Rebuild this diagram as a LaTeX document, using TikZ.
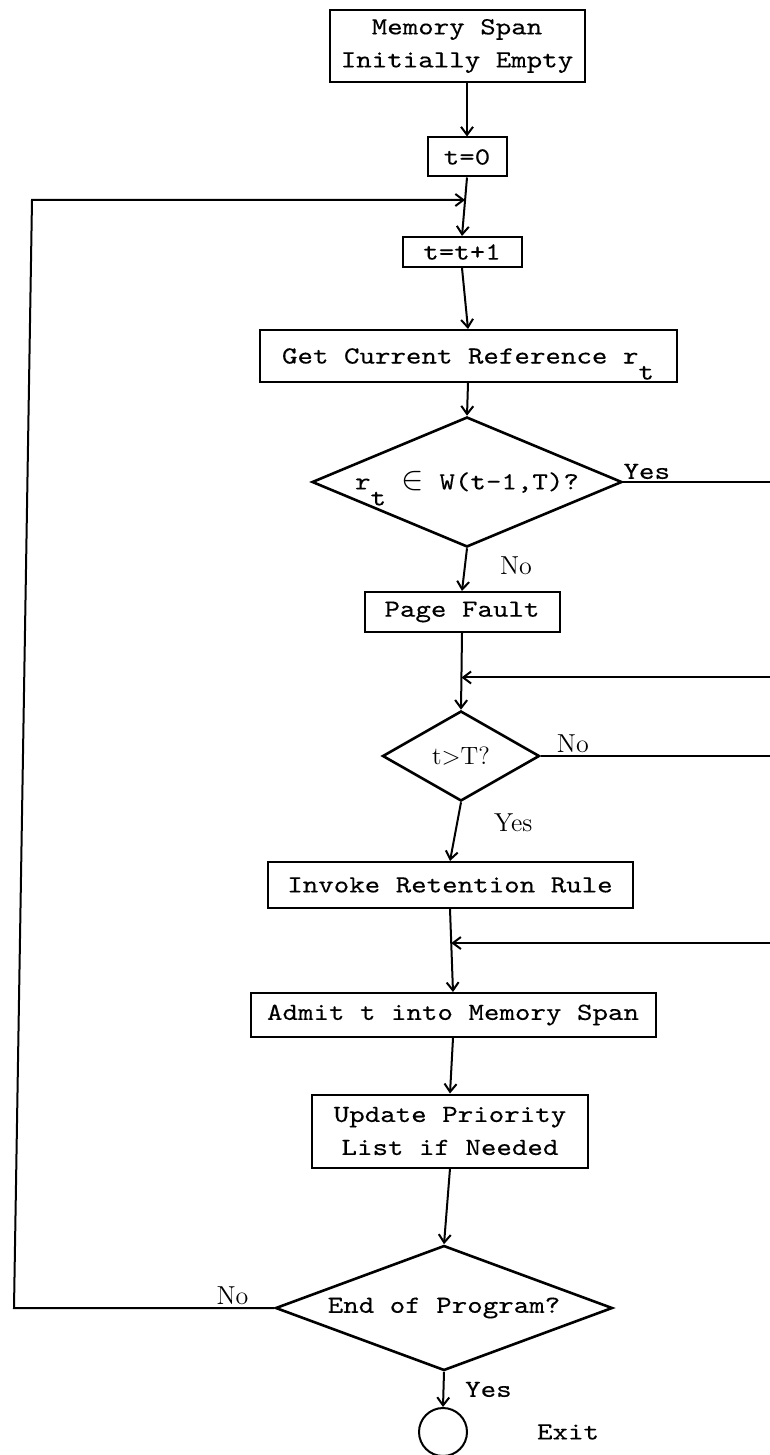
\documentclass[tikz,border=0pt]{standalone}
\usepackage{fontspec}
\newfontfamily\typer[FakeStretch=1.2, FakeBold=0.3]{lmmono10-regular.otf}
\usetikzlibrary{positioning, shapes.geometric, arrows.meta, calc}

\begin{document}
\begin{tikzpicture}[
        x=0.5pt, y=-0.5pt,
        every node/.style={font=\typer\fontsize{12.3}{16.5}\selectfont},
        stepbox/.style={draw, line width=1pt, inner sep=0pt, align=center},
        test/.style={draw, diamond, line width=1.3pt, inner sep=0pt, align=center},
        lbl/.style={font=\rmfamily\fontsize{13}{15}\selectfont, inner sep=1pt},
        flow/.style={line width=1pt},
        arr/.style={flow, -{Straight Barb[length=4pt,width=6pt]}}
    ]
    \useasboundingbox (0,0) rectangle (770,1455);

    % main column
    \node[stepbox, minimum width=127.5pt, minimum height=36pt] (mem) at (457,46) {Memory Span\\Initially Empty};
    \node[stepbox, minimum width=39.5pt, minimum height=19.5pt] (t0) at (467,157) {t=0};
    \node[stepbox, minimum width=59.5pt, minimum height=15pt] (tt1) at (462,252) {t=t+1};
    \node[stepbox, minimum width=208.5pt, minimum height=26pt] (get) at (468,356) {Get Current Reference r\smash{\raisebox{-8pt}{t}}};
    \node[test, minimum width=155pt, minimum height=65pt, shape aspect=2.4] (inws) at (467,482) {r\smash{\raisebox{-8pt}{t}} \scalebox{1.4}{$\in$} W(t-1,T)?};
    \node[stepbox, minimum width=97.5pt, minimum height=20pt] (fault) at (462,612) {Page Fault};
    \node[test, minimum width=78.5pt, minimum height=45pt, shape aspect=1.75, font=\rmfamily\fontsize{12.5}{14}\selectfont] (tgt) at (461,756) {t>T?};
    \node[stepbox, minimum width=182.5pt, minimum height=23pt] (retain) at (450,885) {Invoke Retention Rule};
    \node[stepbox, minimum width=202.5pt, minimum height=22pt] (admit) at (453,1015) {Admit t into Memory Span};
    \node[stepbox, minimum width=138pt, minimum height=36.5pt] (prio) at (450,1131) {Update Priority\\List if Needed};
    \node[test, minimum width=168.5pt, minimum height=62.5pt, shape aspect=2.7] (endq) at (444,1308) {End of Program?};
    \node[draw, circle, line width=1pt, minimum size=24pt, inner sep=0pt] (exitc) at (443,1432) {};
    \node[right=31pt of exitc] (exitlbl) {Exit};

    % helper points
    \coordinate (redge) at (770,0);
    \coordinate (back) at (465,200);
    \coordinate (looptop) at (32,200);
    \coordinate (loopbot) at (14,1308);
    \coordinate (rejoin) at ($(fault.south)!0.58!(tgt.north)$);
    \coordinate (admitjoin) at ($(retain.south)!0.41!(admit.north)$);

    \draw[arr] (mem.south -| t0.north) -- (t0.north);
    \draw[arr] (t0.south) -- (tt1.north);
    \draw[arr] (tt1.south) -- (get.north);
    \draw[arr] (get.south) -- (inws.north);
    \draw[flow] (inws.east) -- node[above, inner sep=1pt, pos=0.16] (yes1) {Yes} (inws.east -| redge);
    \draw[arr] (inws.south) -- node[lbl, right=16pt, pos=0.4] (no1) {No} (fault.north);
    \draw[arr] (fault.south) -- (tgt.north);
    \draw[arr] (rejoin -| redge) -- (rejoin);
    \draw[flow] (tgt.east) -- node[lbl, above, pos=0.14] (no2) {No} (tgt.east -| redge);
    \draw[arr] (tgt.south) -- node[lbl, right=17pt, pos=0.35] (yes2) {Yes} (retain.north);
    \draw[arr] (retain.south) -- (admit.north);
    \draw[arr] (admitjoin -| redge) -- (admitjoin);
    \draw[arr] (admit.south) -- (prio.north);
    \draw[arr] (prio.south) -- (endq.north);
    \draw[arr] (endq.west) -- node[lbl, above, pos=0.16] (no3) {No} (loopbot) -- (looptop) -- (back);
    \draw[arr] (endq.south) -- node[right=7pt, pos=0.5] (yes3) {Yes} (exitc.north);
\end{tikzpicture}
\end{document}
